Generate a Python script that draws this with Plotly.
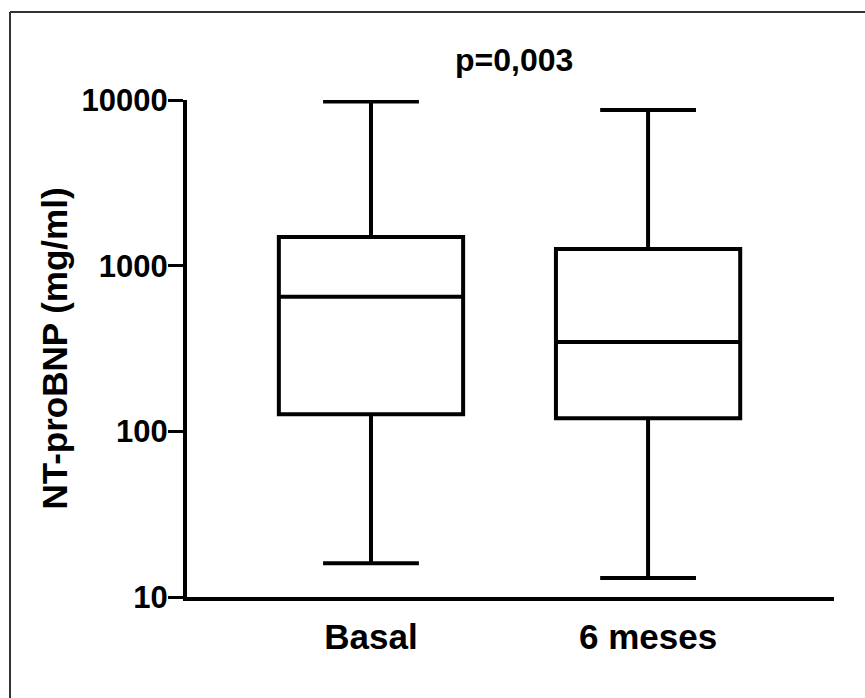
import plotly.graph_objects as go

categories = ["Basal", "6 meses"]
lower_whisker = [16.0, 13.0]
q1_values = [127, 120]
median_values = [650, 346]
q3_values = [1490, 1260]
upper_whisker = [9800, 8700]
y_tick_values = [10, 100, 1000, 10000]
y_tick_labels = ["10", "100", "1000", "10000"]
p_label = "p=0,003"
y_title = "NT-proBNP (mg/ml)"

W, H = 865, 698
L, R, T, B = 187, 31, 100, 101
pw, ph = W - L - R, H - T - B

def px_to_paper_x(px):
    return (px - L) / pw

def px_to_paper_y(py):
    return (H - B - py) / ph

bold = "Liberation Sans, Arial, sans-serif"

fig = go.Figure()
for i, c in enumerate(categories):
    fig.add_trace(go.Box(
        x=[c],
        q1=[q1_values[i]],
        median=[median_values[i]],
        q3=[q3_values[i]],
        lowerfence=[lower_whisker[i]],
        upperfence=[upper_whisker[i]],
        width=0.665,
        whiskerwidth=0.52,
        fillcolor="white",
        line=dict(color="black", width=4),
        boxpoints=False,
        showlegend=False,
        hoverinfo="skip",
    ))

fig.update_layout(
    width=W, height=H,
    margin=dict(l=L, r=R, t=T, b=B, pad=0),
    paper_bgcolor="white",
    plot_bgcolor="white",
    font=dict(family=bold, color="black"),
    xaxis=dict(
        type="category",
        range=[-0.664, 1.671],
        showline=True, linecolor="black", linewidth=4,
        ticks="", showgrid=False, zeroline=False,
        tickfont=dict(family=bold, size=35, weight="bold"),
        ticklabelstandoff=6,
    ),
    yaxis=dict(
        type="log",
        range=[1, 4],
        tickvals=y_tick_values,
        ticktext=y_tick_labels,
        showline=True, linecolor="black", linewidth=4,
        ticks="outside", ticklen=15, tickwidth=3, tickcolor="black",
        showgrid=False, zeroline=False,
        tickfont=dict(family=bold, size=31, weight="bold"),
        ticklabelstandoff=-6,
        title=dict(text=y_title, font=dict(family=bold, size=35, weight="bold"), standoff=4),
    ),
    annotations=[dict(
        text=p_label, xref="paper", yref="paper",
        x=px_to_paper_x(514), y=px_to_paper_y(60),
        xanchor="center", yanchor="middle", showarrow=False,
        font=dict(family=bold, size=32, weight="bold", color="black"),
    )],
    shapes=[
        dict(type="line", xref="paper", yref="paper",
             x0=px_to_paper_x(10), x1=px_to_paper_x(870),
             y0=px_to_paper_y(12), y1=px_to_paper_y(12),
             line=dict(color="#333333", width=2)),
        dict(type="line", xref="paper", yref="paper",
             x0=px_to_paper_x(10), x1=px_to_paper_x(10),
             y0=px_to_paper_y(12), y1=px_to_paper_y(705),
             line=dict(color="#333333", width=2)),
    ],
)

fig.write_html(
    "out.html",
    config={"displayModeBar": False},
    post_script="document.body.style.margin='0';document.body.style.overflow='hidden';",
)
